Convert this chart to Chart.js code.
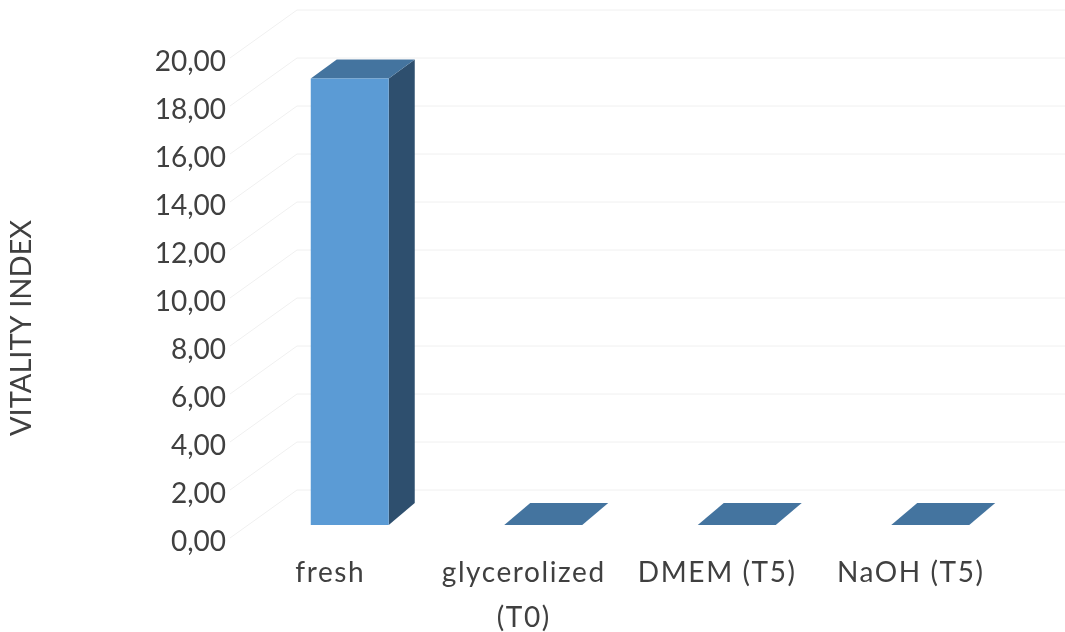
<!DOCTYPE html>
<html>
<head>
<meta charset="utf-8">
<title>Vitality index</title>
<script src="https://cdn.jsdelivr.net/npm/chart.js@4/dist/chart.umd.min.js"></script>
<style>
  html, body { margin: 0; padding: 0; background: #fff; }
  canvas { display: block; }
</style>
</head>
<body>
<canvas id="chart" width="1065" height="632"></canvas>
<script>
const categories = ['fresh', ['glycerolized', '(T0)'], 'DMEM (T5)', 'NaOH (T5)'];
const vitality = [18.6, 0, 0, 0];
const yTickLabels = ['0,00', '2,00', '4,00', '6,00', '8,00', '10,00', '12,00', '14,00', '16,00', '18,00', '20,00'];
const yTitle = 'VITALITY INDEX';

const FRONT = '#5B9BD5';
const TOP = '#44749F';
const SIDE = '#2E4F6E';
const GRID = '#F0F0F0';
const TEXT = '#404040';
const FONT = 'Lato, Carlito, sans-serif';

// wall depth, and where the bars stand on the floor
const WALL_X = 67, WALL_Y = 52, WALL_DROP = 4;
const BAR_X = 23, BAR_Y = -17;
const DEPTH_X = 26, DEPTH_Y = 22, TOP_SHRINK = 0.9933;

const walls = {
  id: 'walls',
  beforeDatasetsDraw(chart) {
    const { ctx, scales: { y }, chartArea, width } = chart;
    ctx.save();
    ctx.strokeStyle = GRID;
    ctx.lineWidth = 1;
    y.ticks.forEach(t => {
      const py = y.getPixelForValue(t.value);
      ctx.beginPath();
      ctx.moveTo(chartArea.left, py - WALL_DROP);
      ctx.lineTo(chartArea.left + WALL_X, py - WALL_Y);
      ctx.lineTo(width, py - WALL_Y);
      ctx.stroke();
    });
    ctx.restore();
  },
};

const bars3d = {
  id: 'bars3d',
  beforeDatasetsDraw(chart) {
    const { ctx } = chart;
    ctx.save();
    ctx.translate(BAR_X, BAR_Y);
    chart.getDatasetMeta(0).data.forEach(bar => {
      const p = bar.getProps(['x', 'y', 'base', 'width']);
      const l = p.x - p.width / 2, r = p.x + p.width / 2;
      const backBase = p.base - DEPTH_Y;
      const backTop = backBase - (p.base - p.y) * TOP_SHRINK;
      // side
      ctx.fillStyle = SIDE;
      ctx.beginPath();
      ctx.moveTo(r, p.y);
      ctx.lineTo(r + DEPTH_X, backTop);
      ctx.lineTo(r + DEPTH_X, backBase);
      ctx.lineTo(r, p.base);
      ctx.closePath();
      ctx.fill();
      // top
      ctx.fillStyle = TOP;
      ctx.beginPath();
      ctx.moveTo(l, p.y);
      ctx.lineTo(l + DEPTH_X, backTop);
      ctx.lineTo(r + DEPTH_X, backTop);
      ctx.lineTo(r, p.y);
      ctx.closePath();
      ctx.fill();
    });
  },
  afterDatasetsDraw(chart) {
    chart.ctx.restore();
  },
};

const sideTitle = {
  id: 'sideTitle',
  afterDraw(chart) {
    const { ctx } = chart;
    ctx.save();
    ctx.translate(22, 328);
    ctx.rotate(-Math.PI / 2);
    ctx.font = '29px ' + FONT;
    ctx.fillStyle = TEXT;
    ctx.textAlign = 'center';
    ctx.textBaseline = 'middle';
    ctx.fillText(yTitle, 0, 0);
    ctx.restore();
  },
};

// the category labels are letter-spaced, the value labels are not
const spacedLabels = {
  id: 'spacedLabels',
  beforeDraw(chart) {
    const x = chart.scales.x;
    if (x._spaced) return;
    const draw = x.drawLabels;
    x.drawLabels = function (area) {
      const { ctx } = chart;
      ctx.save();
      ctx.letterSpacing = '1.6px';
      draw.call(x, area);
      ctx.restore();
    };
    x._spaced = true;
  },
};

new Chart(document.getElementById('chart'), {
  type: 'bar',
  data: {
    labels: categories,
    datasets: [{
      data: vitality,
      backgroundColor: FRONT,
      borderWidth: 0,
      categoryPercentage: 1,
      barPercentage: 0.403,
      clip: false,
    }],
  },
  options: {
    responsive: false,
    animation: false,
    layout: { padding: { left: 0, right: 61, top: 62, bottom: 0 } },
    plugins: { legend: { display: false }, tooltip: { enabled: false } },
    scales: {
      x: {
        grid: { display: false },
        border: { display: false },
        afterFit: s => { s.height = 90; },
        ticks: {
          color: TEXT,
          font: { family: FONT, size: 28, lineHeight: 1.6 },
          maxRotation: 0,
          autoSkip: false,
          padding: 1,
          labelOffset: 3.5,
        },
      },
      y: {
        min: 0,
        max: 20,
        grid: { display: false, drawTicks: false },
        border: { display: false },
        afterFit: s => { s.width = 230; },
        ticks: {
          stepSize: 2,
          color: TEXT,
          font: { family: FONT, size: 28 },
          padding: 4,
          callback: (v, i) => yTickLabels[i],
        },
      },
    },
  },
  plugins: [walls, bars3d, sideTitle, spacedLabels],
});
</script>
</body>
</html>
